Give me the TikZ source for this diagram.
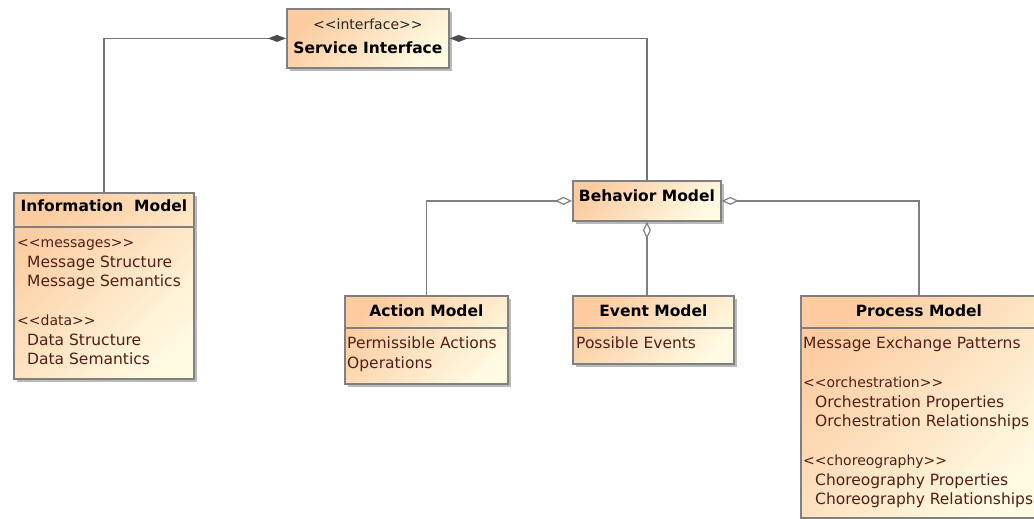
\documentclass[tikz,border=0pt]{standalone}
\usepackage{fontspec}
\setmainfont{DejaVu Sans}
\usetikzlibrary{arrows.meta,shadows,positioning}

\definecolor{umlpeach}{RGB}{252,204,160}
\definecolor{umlcream}{RGB}{255,250,226}
\definecolor{umlline}{RGB}{128,128,128}
\definecolor{umltext}{RGB}{82,30,24}

\newcommand{\stereo}[1]{{\fontsize{14}{19.5}\selectfont<\kern0pt<#1>\kern0pt>}}

\begin{document}
\begin{tikzpicture}[x=1pt, y=-1pt, font=\fontsize{15.5}{19.5}\selectfont,
    classbox/.style={draw=umlline, line width=1.8pt, top color=umlpeach, bottom color=umlcream, shading angle=45,
        drop shadow={shadow xshift=3pt, shadow yshift=-3pt, fill=black!45, opacity=0.6},
        inner sep=0pt, anchor=north west},
    title/.style={font=\fontsize{15.5}{19.5}\selectfont\bfseries, text=black, inner sep=0pt},
    attr/.style={text=umltext, anchor=base west, inner sep=0pt},
    divider/.style={draw=umlline, line width=1.8pt},
    compose/.style={draw=black!55, line width=1.7pt, {Diamond[length=18pt,width=7pt,color=black!70]}-},
    aggregate/.style={draw=black!50, line width=1.7pt, {Diamond[open,length=17pt,width=8pt,line width=1.2pt]}-}]
\useasboundingbox (0,0) rectangle (1034,519);
\clip (0,0) rectangle (1034,519);

% class boxes
\node (svc) [classbox, minimum width=162pt, minimum height=59pt] at (286,8) {};
\node (info) [classbox, minimum width=180pt, minimum height=186pt] at (13,192) {};
\node (beh) [classbox, minimum width=148pt, minimum height=40pt] at (572,180) {};
\node (act) [classbox, minimum width=163pt, minimum height=88pt] at (344,295) {};
\node (evt) [classbox, minimum width=161pt, minimum height=68pt] at (572,295) {};
\node (proc) [classbox, minimum width=236pt, minimum height=222pt] at (800,295) {};

% names
\node (svcst) [inner sep=0pt, text=black!85] at ([yshift=-16pt]svc.north) {\stereo{interface}};
\node (svcname) [title] at ([yshift=-40pt]svc.north) {Service Interface};
\node (infoname) [title] at ([yshift=-14pt]info.north) {Information\ \ Model};
\node (behname) [title] at ([yshift=-16pt]beh.north) {Behavior Model};
\node (actname) [title] at ([yshift=-16pt]act.north) {Action Model};
\node (evtname) [title] at ([yshift=-16pt]evt.north) {Event Model};
\node (procname) [title] at ([yshift=-16pt]proc.north) {Process Model};

\draw[divider] ([yshift=-35pt]info.north west) -- ([yshift=-35pt]info.north east);
\foreach \b in {act,evt,proc}
    \draw[divider] ([yshift=-33pt]\b.north west) -- ([yshift=-33pt]\b.north east);

% compartments
\foreach \dx/\k/\txt in {0/0/{\stereo{messages}}, 10/1/{Message Structure}, 10/2/{Message Semantics},
        0/4/{\stereo{data}}, 10/5/{Data Structure}, 10/6/{Data Semantics}}
    \node (info\k) [attr] at ([xshift=4pt+\dx pt, yshift=-55.5pt-19.5pt*\k]info.north west) {\txt};
\foreach \k/\txt in {0/{Permissible Actions}, 1/{Operations}}
    \node (act\k) [attr] at ([xshift=3pt, yshift=-53.5pt-19.5pt*\k]act.north west) {\txt};
\node (evt0) [attr] at ([xshift=4pt, yshift=-53.5pt]evt.north west) {Possible Events};
\foreach \dx/\k/\txt in {0/0/{Message Exchange Patterns}, 0/2/{\stereo{orchestration}},
        12/3/{Orchestration Properties}, 12/4/{Orchestration Relationships},
        0/6/{\stereo{choreography}}, 12/7/{Choreography Properties}, 12/8/{Choreography Relationships}}
    \node (proc\k) [attr] at ([xshift=3pt+\dx pt, yshift=-53.5pt-19.5pt*\k]proc.north west) {\txt};

% associations
\draw[compose] (svc.west) -| (info.north);
\draw[compose] (svc.east) -| (beh.north);
\draw[aggregate] (beh.west) -| (act.north);
\draw[aggregate] (beh.south) -- (beh.south |- evt.north);
\draw[aggregate] (beh.east) -| (proc.north);

\end{tikzpicture}
\end{document}
